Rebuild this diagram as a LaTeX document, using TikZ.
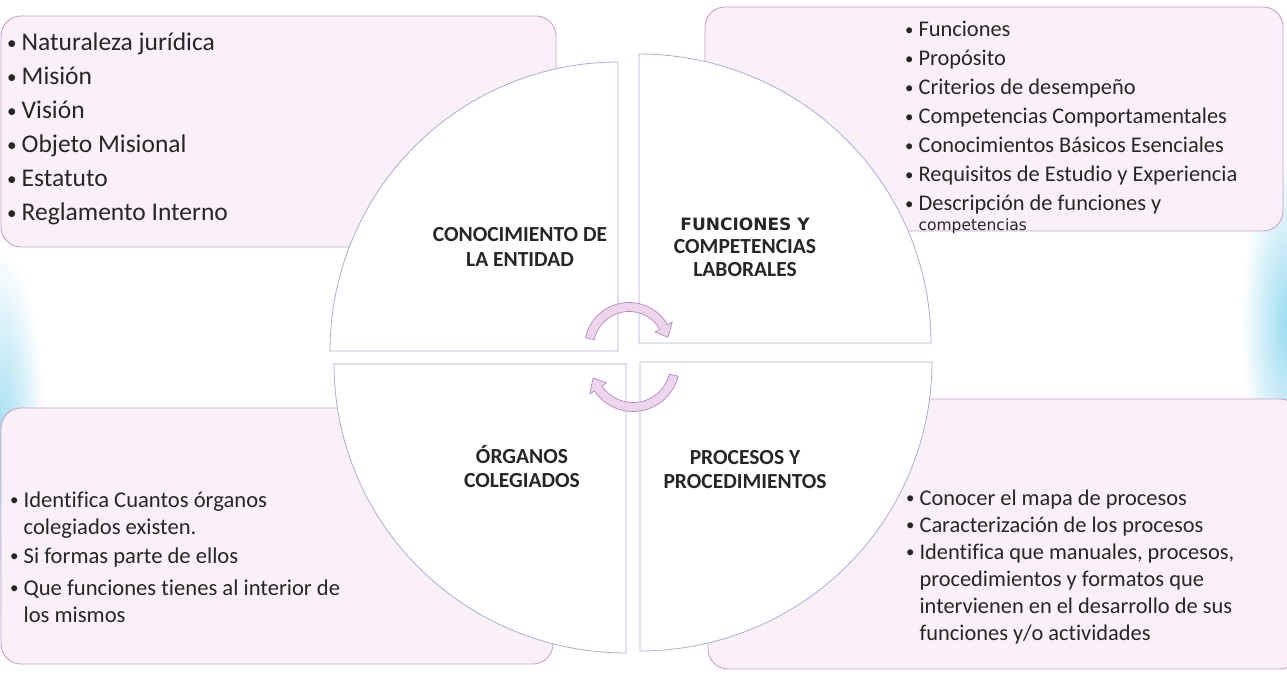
\documentclass[tikz,border=0pt]{standalone}
\usepackage{fontspec}
\setmainfont[Ligatures=NoCommon]{Carlito}
\newfontfamily\dejavu{DejaVu Sans}
\usetikzlibrary{fadings}
\definecolor{boxline}{HTML}{C9A2CC}
\definecolor{boxfill}{HTML}{F9F1F7}
\definecolor{quadline}{HTML}{A8AED8}
\definecolor{txt}{HTML}{262626}
\definecolor{cycfill}{HTML}{EFD5EC}
\definecolor{cycline}{HTML}{B08AC6}
\definecolor{glow}{HTML}{8AD6EE}
\tikzfading[name=softedge, inner color=transparent!15, outer color=transparent!100]
\newcommand{\blt}{\raisebox{0.07em}{\scalebox{0.75}{•}}}
\begin{document}
\begin{tikzpicture}[x=1pt,y=-1pt,
  panel/.style={draw=boxline, fill=boxfill, line width=0.9pt, rounded corners=20pt},
  quad/.style={draw=quadline, fill=white, line width=0.8pt},
  cyc/.style={draw=cycline, fill=cycfill, line width=0.7pt, line join=round},
  list/.style={anchor=base west, inner sep=0pt, text=txt},
  lab/.style={anchor=base, inner sep=0pt, text=txt, font=\bfseries}]
\useasboundingbox (0,0) rectangle (1287,676);
\fill[white] (0,0) rectangle (1287,676);
\fill[glow, path fading=softedge] (-45,250) rectangle (45,650);
\fill[glow, path fading=softedge] (1242,160) rectangle (1332,490);
% corner panels
\path[panel] (1,16) rectangle (556,247);
\path[panel] (705,7) rectangle (1283,231);
\path[panel] (1,408) rectangle (553,664);
\path[panel] (708,399) rectangle (1300,669);
% quadrants
\path[quad] (618,351) -- plot[domain=180:270, samples=60] ({618+288*cos(\x)},{351+289*sin(\x)}) -- cycle;
\path[quad] (639,343) -- plot[domain=270:360, samples=60] ({639+292*cos(\x)},{343+289*sin(\x)}) -- cycle;
\path[quad] (626,364) -- plot[domain=90:180, samples=60] ({626+292*cos(\x)},{364+289*sin(\x)}) -- cycle;
\path[quad] (640,362) -- plot[domain=0:90, samples=60] ({640+292*cos(\x)},{362+289*sin(\x)}) -- cycle;
% cycle arrows
\path[cyc] plot[domain=192:330, samples=30] ({629+44.5*cos(\x)},{347+44.5*sin(\x)})
  -- ({629+50*cos(330)},{347+50*sin(330)})
  -- ({629+40*cos(346)},{347+40*sin(346)})
  -- ({629+30*cos(330)},{347+30*sin(330)})
  -- plot[domain=330:192, samples=30] ({629+35.5*cos(\x)},{347+35.5*sin(\x)})
  -- cycle;
\path[cyc] plot[domain=14:146, samples=30] ({633+46.5*cos(\x)},{365+46.5*sin(\x)})
  -- ({633+52*cos(146)},{365+52*sin(146)})
  -- ({633+42*cos(162)},{365+42*sin(162)})
  -- ({633+32*cos(146)},{365+32*sin(146)})
  -- plot[domain=146:14, samples=30] ({633+37.5*cos(\x)},{365+37.5*sin(\x)})
  -- cycle;
% lists
\node[list] (tltext) at (7,51) {\fontsize{25.5}{34}\selectfont\begin{tabular}[t]{@{}l@{\hspace{5pt}}l@{}}
\blt&Naturaleza jurídica\\ \blt&Misión\\ \blt&Visión\\ \blt&Objeto Misional\\ \blt&Estatuto\\ \blt&Reglamento Interno\end{tabular}};
\node[list] (trtext) at (905,37) {\fontsize{22.4}{29}\selectfont\begin{tabular}[t]{@{}l@{\hspace{5pt}}l@{}}
\blt&Funciones\\ \blt&Propósito\\ \blt&Criterios de desempeño\\ \blt&Competencias Comportamentales\\ \blt&Conocimientos Básicos Esenciales\\ \blt&Requisitos de Estudio y Experiencia\\ \blt&Descripción de funciones y\\[-9pt] &{\dejavu\fontsize{15.5}{18}\selectfont competencias}\end{tabular}};
\node[list] (bltext) at (10,507) {\fontsize{22.6}{27}\selectfont\begin{tabular}[t]{@{}l@{\hspace{5pt}}l@{}}
\blt&Identifica Cuantos órganos\\ &colegiados existen.\\[2pt] \blt&Si formas parte de ellos\\[5pt] \blt&Que funciones tienes al interior de\\ &los mismos\end{tabular}};
\node[list] (brtext) at (906,505) {\fontsize{22.4}{27}\selectfont\begin{tabular}[t]{@{}l@{\hspace{5pt}}l@{}}
\blt&Conocer el mapa de procesos\\ \blt&Caracterización de los procesos\\ \blt&Identifica que manuales, procesos,\\ &procedimientos y formatos que\\ &intervienen en el desarrollo de sus\\ &funciones y/o actividades\end{tabular}};
% quadrant labels
\node[lab] (l1) at (520,242) {\fontsize{21.5}{25}\selectfont\begin{tabular}[t]{@{}c@{}}CONOCIMIENTO DE\\LA ENTIDAD\end{tabular}};
\node[lab] (l2) at (745,231) {\fontsize{21.5}{23}\selectfont\begin{tabular}[t]{@{}c@{}}{\dejavu\fontsize{17}{20}\selectfont FUNCIONES Y}\\COMPETENCIAS\\LABORALES\end{tabular}};
\node[lab] (l3) at (522,463) {\fontsize{21.5}{24}\selectfont\begin{tabular}[t]{@{}c@{}}ÓRGANOS\\COLEGIADOS\end{tabular}};
\node[lab] (l4) at (745,464) {\fontsize{21.5}{24}\selectfont\begin{tabular}[t]{@{}c@{}}PROCESOS Y\\PROCEDIMIENTOS\end{tabular}};
\end{tikzpicture}
\end{document}
